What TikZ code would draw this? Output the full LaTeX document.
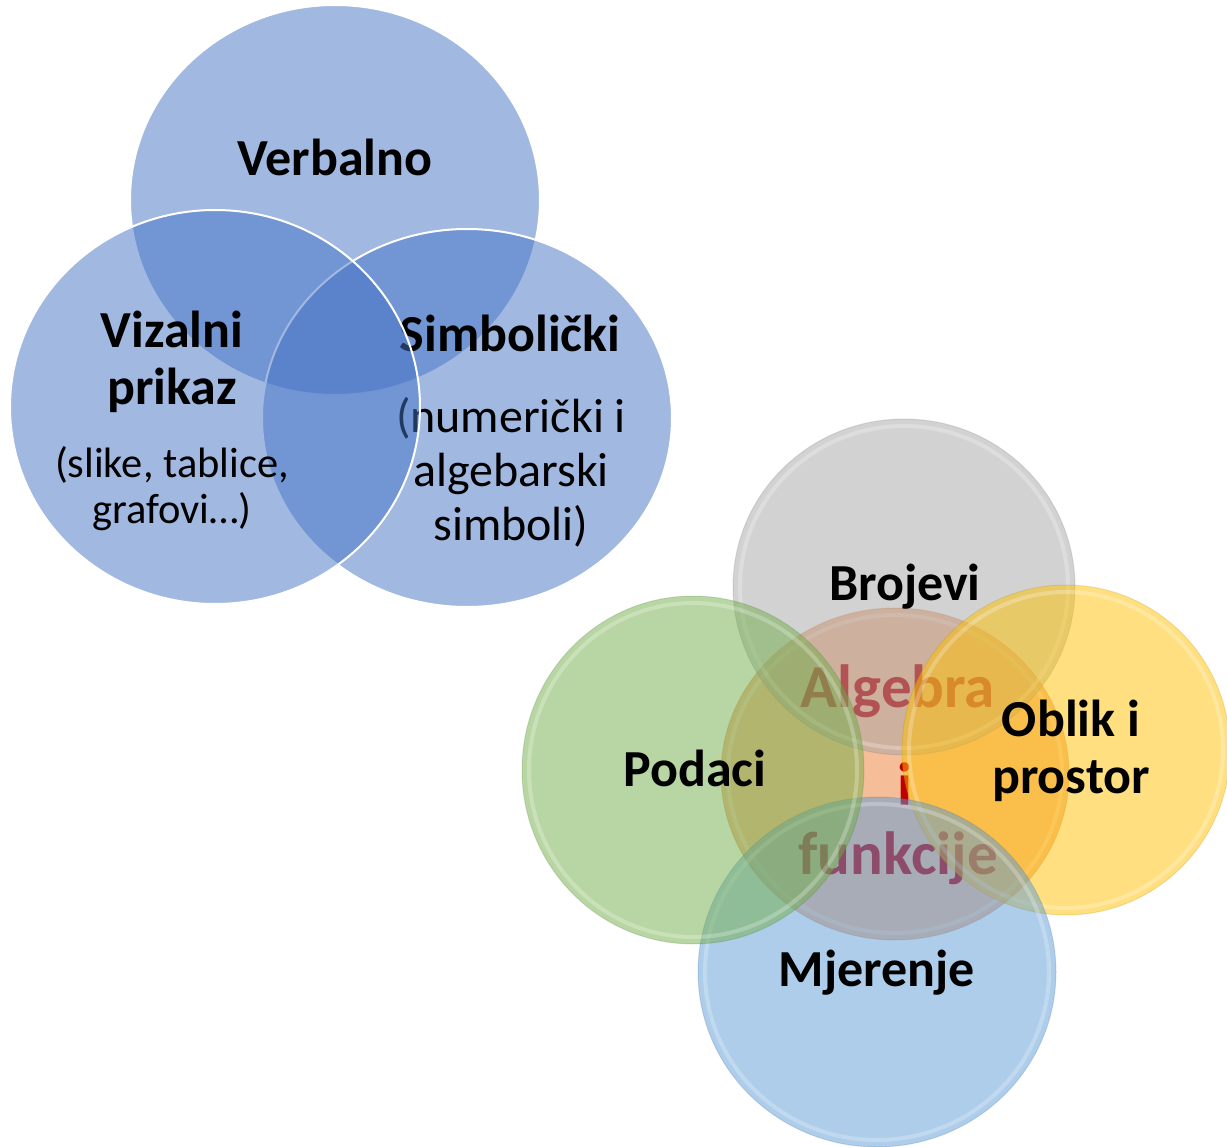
\documentclass[tikz,border=0pt]{standalone}
\usepackage{fontspec}
\setmainfont{Carlito}
\usepackage{tikz}
\usepackage{xcolor}
\usetikzlibrary{positioning}
\definecolor{myblue}{RGB}{68,114,196}
\definecolor{myorange}{RGB}{237,125,49}
\definecolor{mygray}{RGB}{165,165,165}
\definecolor{mygold}{RGB}{255,192,0}
\definecolor{mysky}{RGB}{91,155,213}
\definecolor{mygreen}{RGB}{112,173,71}
\definecolor{myred}{RGB}{192,0,0}

\begin{document}
\begin{tikzpicture}[x=1pt,y=-1pt,
    head/.style={font=\bfseries\fontsize{52}{57}\selectfont,align=center,inner sep=0pt,anchor=base},
    sub/.style={inner sep=0pt,align=center,anchor=base},
    alg/.style={font=\bfseries\fontsize{61}{66}\selectfont,text=myred,inner sep=0pt,anchor=base},
    topdisc/.style={fill=myblue,fill opacity=0.5,draw=white,line width=2pt},
    disc/.style={fill=#1,fill opacity=0.5,draw=#1!70!black,draw opacity=0.2,line width=1pt},
    rim/.style={draw=white,draw opacity=0.25,line width=4pt}]
  \useasboundingbox (0,0) rectangle (1227,1147);
  % three representations
  \filldraw[topdisc] (335,200) ellipse [x radius=205,y radius=195];
  \node[head] (verbalno) at (335,176) {Verbalno};
  \filldraw[topdisc] (467,418) ellipse [x radius=205,y radius=189];
  \node[head] (simbolicki) at (510,352) {Simbolički};
  \node[sub,font=\fontsize{48}{54}\selectfont] (simbtxt) at (511,540)
    {(numerički i\\algebarski\\simboli)};
  \filldraw[topdisc] (215,407) ellipse [x radius=205,y radius=197];
  \node[head] (vizualni) at (172,405) {Vizalni\\prikaz};
  \node[sub,font=\fontsize{42.5}{46}\selectfont] (viztxt) at (172,523)
    {(slike, tablice,\\grafovi…)};
  % content areas
  \filldraw[disc=myorange] (895,774) ellipse [x radius=174,y radius=166];
  \draw[rim] (895,774) ellipse [x radius=167,y radius=159];
  \node[alg] (algebra) at (898,707) {Algebra};
  \node[alg] (ii) at (905,805) {i};
  \node[alg] (funkcije) at (898,874) {funkcije};
  \filldraw[disc=mygray] (904,587) ellipse [x radius=171,y radius=168];
  \draw[rim] (904,587) ellipse [x radius=164,y radius=161];
  \filldraw[disc=mygold] (1066,750) ellipse [x radius=164,y radius=165];
  \draw[rim] (1066,750) ellipse [x radius=157,y radius=158];
  \filldraw[disc=mysky] (877,972) ellipse [x radius=179,y radius=175];
  \draw[rim] (877,972) ellipse [x radius=172,y radius=168];
  \filldraw[disc=mygreen] (693,770) ellipse [x radius=171,y radius=174];
  \draw[rim] (693,770) ellipse [x radius=164,y radius=167];
  \node[head] (brojevi) at (905,600) {Brojevi};
  \node[head] (oblik) at (1071,793) {Oblik i\\prostor};
  \node[head] (mjerenje) at (877,986) {Mjerenje};
  \node[head] (podaci) at (695,786) {Podaci};
\end{tikzpicture}
\end{document}
